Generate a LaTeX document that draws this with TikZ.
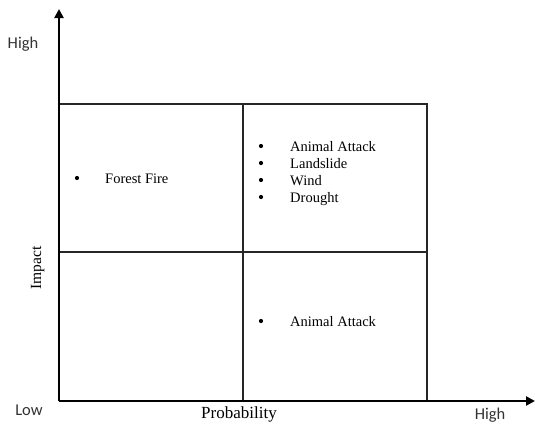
\documentclass[tikz,border=0pt]{standalone}
\usepackage{fontspec}
\setmainfont{Liberation Serif}
\newfontfamily\calib{Carlito}
\usetikzlibrary{arrows.meta}
\begin{document}
\begin{tikzpicture}[x=1pt,y=-1pt,
  axis/.style={line width=2.4pt,-{Triangle[length=9pt,width=9pt]}},
  gridline/.style={line width=1.3pt,draw=black!85},
  bul/.style={circle,fill=black,inner sep=0pt,minimum size=4.2pt},
  item/.style={anchor=base west,inner sep=0pt,font=\fontsize{14.5}{16}\selectfont},
  lvl/.style={font=\calib\fontsize{16.5}{18}\selectfont,inner sep=0pt,text=black!80},
  axlabel/.style={inner sep=0pt}]
\useasboundingbox (0,0) rectangle (535,423);
\fill[white] (0,0) rectangle (535,423);
% grid
\coordinate (o) at (59,401);
\coordinate (tl) at (59,104);
\coordinate (tr) at (427,104);
\coordinate (br) at (427,401);
\coordinate (tm) at (243,104);
\coordinate (bm) at (243,401);
\coordinate (ml) at (59,252);
\coordinate (mr) at (427,252);
\draw[gridline] (tl) -- (tr) -- (br);
\draw[gridline] (tm) -- (bm);
\draw[gridline] (ml) -- (mr);
% axes
\coordinate (ytip) at (59,9);
\coordinate (xtip) at (535,401);
\draw[axis] (o) -- (ytip);
\draw[axis] (o) -- (xtip);
% axis labels
\node[lvl,anchor=base] (high1) at (23,48) {High};
\node[lvl,anchor=base] (low) at (29,415) {Low};
\node[lvl,anchor=base] (high2) at (490,419) {High};
\node[axlabel,anchor=base,font=\fontsize{17}{19}\selectfont] (prob) at (239,418) {Probability};
\node[axlabel,rotate=90,anchor=base,font=\fontsize{15.5}{17}\selectfont] (impact) at (41,268) {Impact};
% items
\node[bul] (b0) at (77,178) {};
\node[item] (t0) at (105,183) {Forest Fire};
\node[bul] (b1) at (261,146) {};
\node[item] (t1) at (290,151) {Animal Attack};
\node[bul] (b2) at (261,163) {};
\node[item] (t2) at (290,168) {Landslide};
\node[bul] (b3) at (261,180) {};
\node[item] (t3) at (290,185) {Wind};
\node[bul] (b4) at (261,197) {};
\node[item] (t4) at (290,202) {Drought};
\node[bul] (b5) at (261,321) {};
\node[item] (t5) at (290,326) {Animal Attack};
\end{tikzpicture}
\end{document}
